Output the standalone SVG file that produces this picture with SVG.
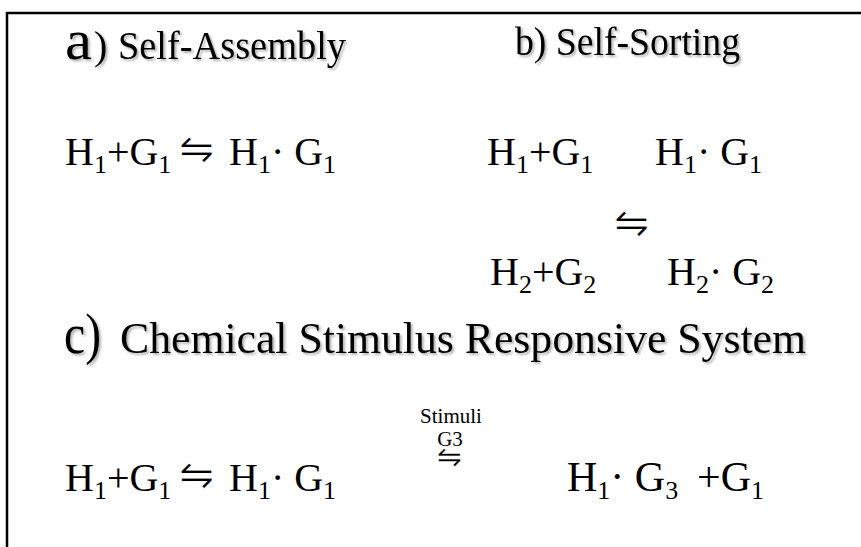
<svg xmlns="http://www.w3.org/2000/svg" width="861" height="547" viewBox="0 0 861 547">
<defs>
<filter id="sh" x="-5%" y="-20%" width="110%" height="150%">
<feDropShadow dx="2" dy="2" stdDeviation="1.2" flood-color="#000" flood-opacity="0.3"/>
</filter>
</defs>
<style>
.t{font-family:"Liberation Serif","Times New Roman",serif;font-size:40px;fill:#000}
.big{font-family:"Liberation Serif","Times New Roman",serif;font-size:58px;fill:#000}
.ct{font-family:"Liberation Serif","Times New Roman",serif;font-size:44px;fill:#000}
.eq{font-family:"Liberation Serif","Times New Roman",serif;font-size:40px;fill:#000}
.eq2{font-family:"Liberation Serif","Times New Roman",serif;font-size:42px;fill:#000}
.sub{font-size:26px}
.sym{font-family:"DejaVu Sans",sans-serif;font-size:42px;fill:#000;stroke:#fff;stroke-width:0.9}
.small{font-family:"Liberation Serif","Times New Roman",serif;font-size:21px;fill:#000}
.frame{stroke:#000;stroke-width:2.5;fill:none}
</style>
<rect width="861" height="547" fill="#fff"/>
<path class="frame" d="M7,547 V13 H861"/>
<g id="title-a" filter="url(#sh)">
<text class="big" x="65" y="59" textLength="27" lengthAdjust="spacingAndGlyphs">a</text>
<text class="t" x="94" y="59">)</text>
<text class="t" x="118" y="59" textLength="228" lengthAdjust="spacingAndGlyphs">Self-Assembly</text>
</g>
<g id="title-b" filter="url(#sh)">
<text class="t" x="515" y="55" textLength="225" lengthAdjust="spacingAndGlyphs">b) Self-Sorting</text>
</g>
<g id="eq-a">
<text class="eq" x="65" y="165">H<tspan class="sub" dy="8">1</tspan><tspan dy="-8">+G</tspan><tspan class="sub" dy="8">1</tspan></text>
<text class="sym" x="179" y="163">⇋</text>
<text class="eq" x="229" y="165">H<tspan class="sub" dy="8">1</tspan><tspan dy="-8">· G</tspan><tspan class="sub" dy="8">1</tspan></text>
</g>
<g id="eq-b1">
<text class="eq" x="487" y="165">H<tspan class="sub" dy="8">1</tspan><tspan dy="-8">+G</tspan><tspan class="sub" dy="8">1</tspan></text>
<text class="eq" x="655" y="165">H<tspan class="sub" dy="8">1</tspan><tspan dy="-8">· G</tspan><tspan class="sub" dy="8">1</tspan></text>
</g>
<g id="arrow-b">
<text class="sym" x="614" y="237">⇋</text>
</g>
<g id="eq-b2">
<text class="eq" x="490" y="285">H<tspan class="sub" dy="8">2</tspan><tspan dy="-8">+G</tspan><tspan class="sub" dy="8">2</tspan></text>
<text class="eq" x="667" y="285">H<tspan class="sub" dy="8">2</tspan><tspan dy="-8">· G</tspan><tspan class="sub" dy="8">2</tspan></text>
</g>
<g id="title-c" filter="url(#sh)">
<text class="big" x="64" y="353" textLength="37" lengthAdjust="spacingAndGlyphs">c)</text>
<text class="ct" x="120" y="353" textLength="686" lengthAdjust="spacingAndGlyphs">Chemical Stimulus Responsive System</text>
</g>
<g id="eq-c1">
<text class="eq" x="65" y="491">H<tspan class="sub" dy="8">1</tspan><tspan dy="-8">+G</tspan><tspan class="sub" dy="8">1</tspan></text>
<text class="sym" x="179" y="489">⇋</text>
<text class="eq" x="229" y="491">H<tspan class="sub" dy="8">1</tspan><tspan dy="-8">· G</tspan><tspan class="sub" dy="8">1</tspan></text>
</g>
<g id="arrow-c">
<text class="small" x="451" y="423" text-anchor="middle">Stimuli</text>
<text class="small" x="450" y="446" text-anchor="middle">G3</text>
<text class="sym" style="font-size:30px;stroke-width:0.5" x="437" y="467">⇋</text>
</g>
<g id="eq-c2">
<text class="eq2" x="567" y="491">H<tspan class="sub" dy="8">1</tspan><tspan dy="-8">· G</tspan><tspan class="sub" dy="8">3</tspan></text>
<text class="eq2" x="697" y="491">+G<tspan class="sub" dy="8">1</tspan></text>
</g>
</svg>
